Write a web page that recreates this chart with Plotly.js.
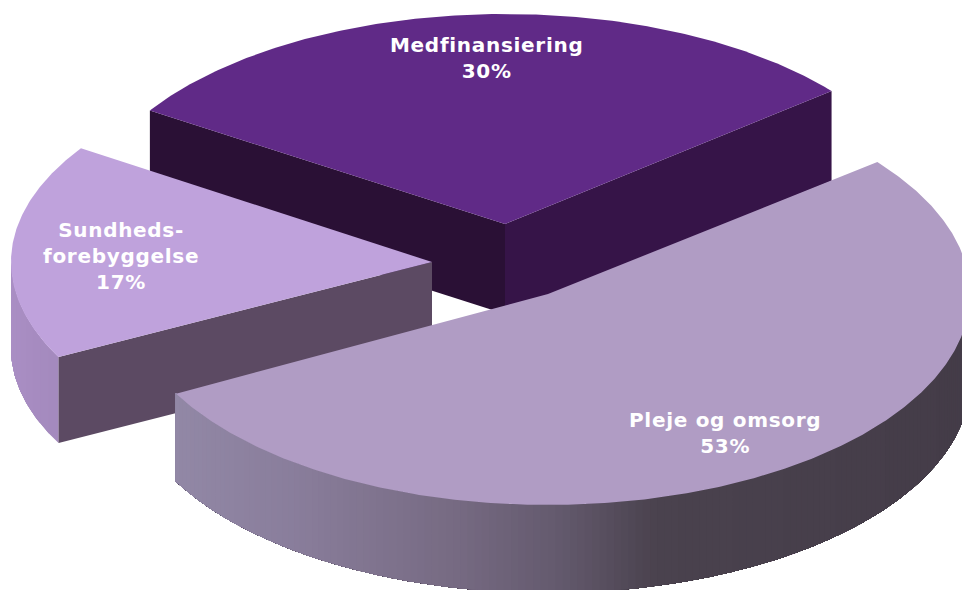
<!DOCTYPE html>
<html><head><meta charset="utf-8">
<script src="https://cdn.plot.ly/plotly-3.0.1.min.js"></script>
<style>html,body{margin:0;padding:0;background:#fff}#c{width:962px;height:590px}
.annotation-text{letter-spacing:0.7px}</style>
</head><body><div id="c"></div>
<script>
// Data
const labels = ["Medfinansiering", "Pleje og omsorg", "Sundheds-<br>forebyggelse"];
const shares = [30, 53, 17];
// Style
const topColors = ["#602a87", "#b09cc4", "#bfa2dc"];
const edgeStartColors = ["#361448", null, null];
const edgeEndColors = ["#2a1035", null, "#5c4a63"];
// Projection of the exploded disc (slice apex, clockwise start angle from "up")
const centerX = [505, 548, 432];
const centerY = [224, 294, 262];
const startDeg = [-57.3, 51.3, 242.5];
const radiusX = [422, 422, 421];
const radiusY = [210, 211, 206];
const depth = [90, 88, 86];
const labelX = [486, 725, 121];
const labelY = [58, 433, 256];
// Rim shading stops: [x pixel, r, g, b]
const plejeRim = [[174,146,136,166],[300,137,125,155],[460,118,106,130],[560,100,90,110],[660,74,66,78],[962,68,60,72]];
const sundRim = [[12,170,142,196],[57,164,138,190]];

const rad = d => d * Math.PI / 180;
const px = (i, a) => centerX[i] + radiusX[i] * Math.sin(rad(a));
const py = (i, a) => centerY[i] - radiusY[i] * Math.cos(rad(a));
const endDeg = i => startDeg[i] + shares[i] * 3.6;
function shade(stops, x) {
  for (let k = 1; k < stops.length; k++) {
    if (x <= stops[k][0]) {
      const a = stops[k-1], b = stops[k], t = Math.max(0, (x - a[0]) / (b[0] - a[0]));
      return `rgb(${[1,2,3].map(j => Math.round(a[j] + (b[j]-a[j]) * t)).join(",")})`;
    }
  }
  const l = stops[stops.length-1];
  return `rgb(${l[1]},${l[2]},${l[3]})`;
}
function poly(xs, ys, color) {
  return {type:"scatter", mode:"lines", x:xs, y:ys, fill:"toself", fillcolor:color,
          line:{width:0}, hoverinfo:"skip", showlegend:false};
}
function topFace(i) {
  const xs = [centerX[i]], ys = [centerY[i]];
  for (let a = startDeg[i]; a <= endDeg(i) + 1e-6; a += 0.5) { xs.push(px(i,a)); ys.push(py(i,a)); }
  xs.push(centerX[i]); ys.push(centerY[i]);
  return poly(xs, ys, topColors[i]);
}
function straightWall(i, a, color) {
  return poly([centerX[i], px(i,a), px(i,a), centerX[i], centerX[i]],
              [centerY[i], py(i,a), py(i,a)+depth[i], centerY[i]+depth[i], centerY[i]], color);
}
// Rim painted as overlapping bands from the right-hand end towards the left, so no seams show.
function rim(i, from, to, stops, step) {
  const out = [];
  for (let a = from; a < to; a += step) {
    const xs = [], ysTop = [];
    for (let b = a; b <= to; b += 0.5) { xs.push(px(i,b)); ysTop.push(py(i,b)); }
    const rx = xs.concat(xs.slice().reverse());
    const ry = ysTop.concat(ysTop.slice().reverse().map(v => v + depth[i]));
    out.push(poly(rx.concat(rx[0]), ry.concat(ry[0]), shade(stops, px(i,a))));
  }
  return out;
}
const traces = [];
// Medfinansiering (back)
traces.push(straightWall(0, startDeg[0], edgeEndColors[0]));
traces.push(straightWall(0, endDeg(0), edgeStartColors[0]));
traces.push(topFace(0));
// Sundhedsforebyggelse (left)
traces.push(...rim(2, startDeg[2], 270, sundRim, 3));
traces.push(straightWall(2, startDeg[2], edgeEndColors[2]));
traces.push(topFace(2));
// Pleje og omsorg (front): rim runs from the far right (dark) to the left corner (light)
traces.push(...rim(1, 85, endDeg(1), plejeRim, 1));
traces.push(topFace(1));

const annotations = labels.map((t, i) => ({
  x: labelX[i], y: labelY[i], xref:"x", yref:"y", showarrow:false, align:"center",
  text: t + "<br>" + shares[i] + "%",
  font:{family:"'DejaVu Sans', sans-serif", size:20, color:"#ffffff", weight:700}
}));
const hidden = {visible:false, fixedrange:true, showgrid:false, zeroline:false};
Plotly.newPlot("c", traces, {
  width:962, height:590, margin:{l:0,r:0,t:0,b:0},
  paper_bgcolor:"#fff", plot_bgcolor:"#fff",
  xaxis:Object.assign({range:[0,962]}, hidden),
  yaxis:Object.assign({range:[590,0]}, hidden),
  annotations, showlegend:false
}, {displayModeBar:false, staticPlot:true});
</script></body></html>
